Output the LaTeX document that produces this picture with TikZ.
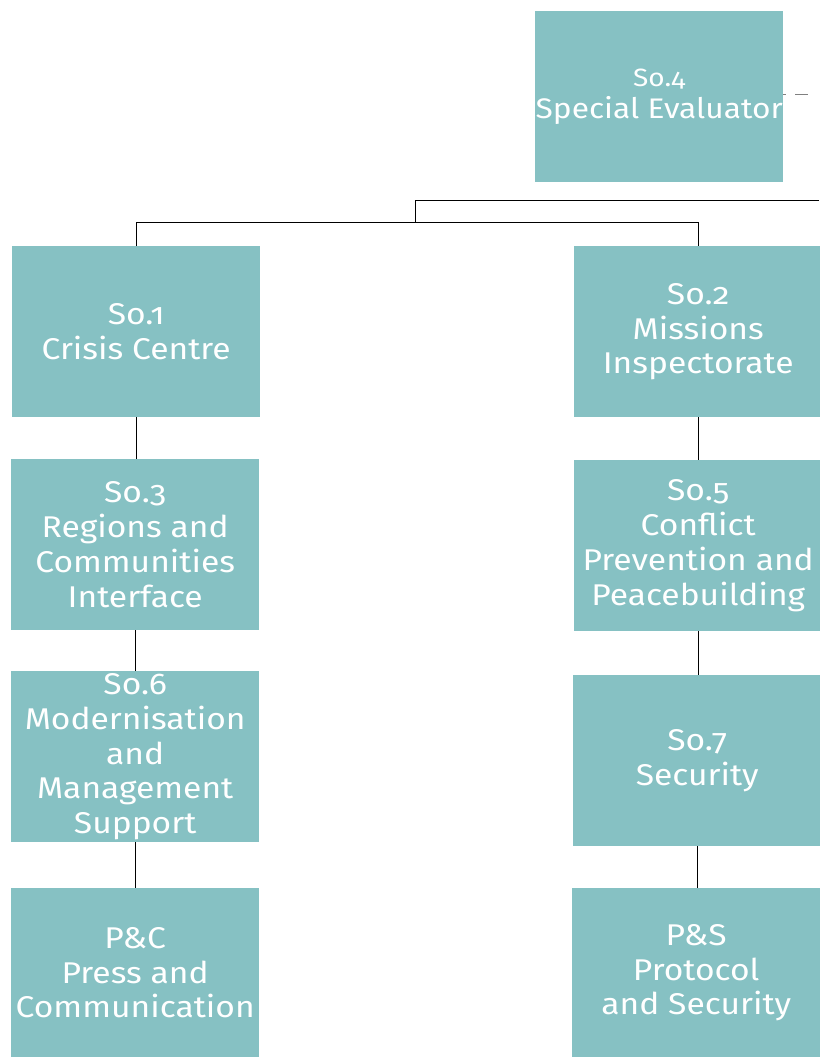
\documentclass[tikz,border=0pt]{standalone}
\usepackage{fontspec}
\setmainfont[Numbers=OldStyle,FakeStretch=1.12]{Fira Sans}
\definecolor{boxteal}{HTML}{86C1C3}
\tikzset{
  unit/.style={fill=boxteal, text=white, inner sep=0pt, align=center,
    anchor=north west, minimum width=248pt, minimum height=171pt,
    font=\fontsize{30}{34.75}\selectfont},
  link/.style={draw=black, line width=0.8pt}
}
\begin{document}
\begin{tikzpicture}[x=1pt,y=-1pt]
\useasboundingbox (0,0) rectangle (819,1057);
\path
	(535,11) node [unit, font=\fontsize{28.3}{32}\selectfont] (so4) {{\fontsize{25}{32}\selectfont So.4}\\Special Evaluator}
	(12,246) node [unit] (so1) {So.1\\Crisis Centre}
	(574,246) node [unit] (so2) {So.2\\Missions\\Inspectorate}
	(11,459) node [unit] (so3) {So.3\\Regions and\\Communities\\Interface}
	(574,460) node [unit] (so5) {So.5\\Conflict\\Prevention and\\Peacebuilding}
	(11,671) node [unit] (so6) {So.6\\Modernisation\\and\\Management\\Support}
	(573,675) node [unit] (so7) {So.7\\Security}
	(11,888) node [unit, minimum height=169pt] (pc) {P\&C\\Press and\\Communication}
	(572,888) node [unit, minimum height=169pt] (ps) {P\&S\\Protocol\\and Security};
% links from above
\coordinate (above) at (819,200);
\coordinate (split) at (415,222);
\draw [link] (above) -| (split);
\draw [link] (so1.north) -- (so1.north |- split) -| (so2.north);
\draw [link, draw=gray, dash pattern=on 3pt off 9pt on 13pt off 20pt] (so4.east) ++(0,-2) -- ++(25,0);
% left column
\draw [link] (so1.south) -- (so1.south |- so3.north);
\draw [link] (so3.south) -- (so3.south |- so6.north);
\draw [link] (so6.south) -- (so6.south |- pc.north);
% right column
\draw [link] (so2.south) -- (so2.south |- so5.north);
\draw [link] (so5.south) -- (so5.south |- so7.north);
\draw [link] (so7.south) -- (so7.south |- ps.north);
\end{tikzpicture}
\end{document}
